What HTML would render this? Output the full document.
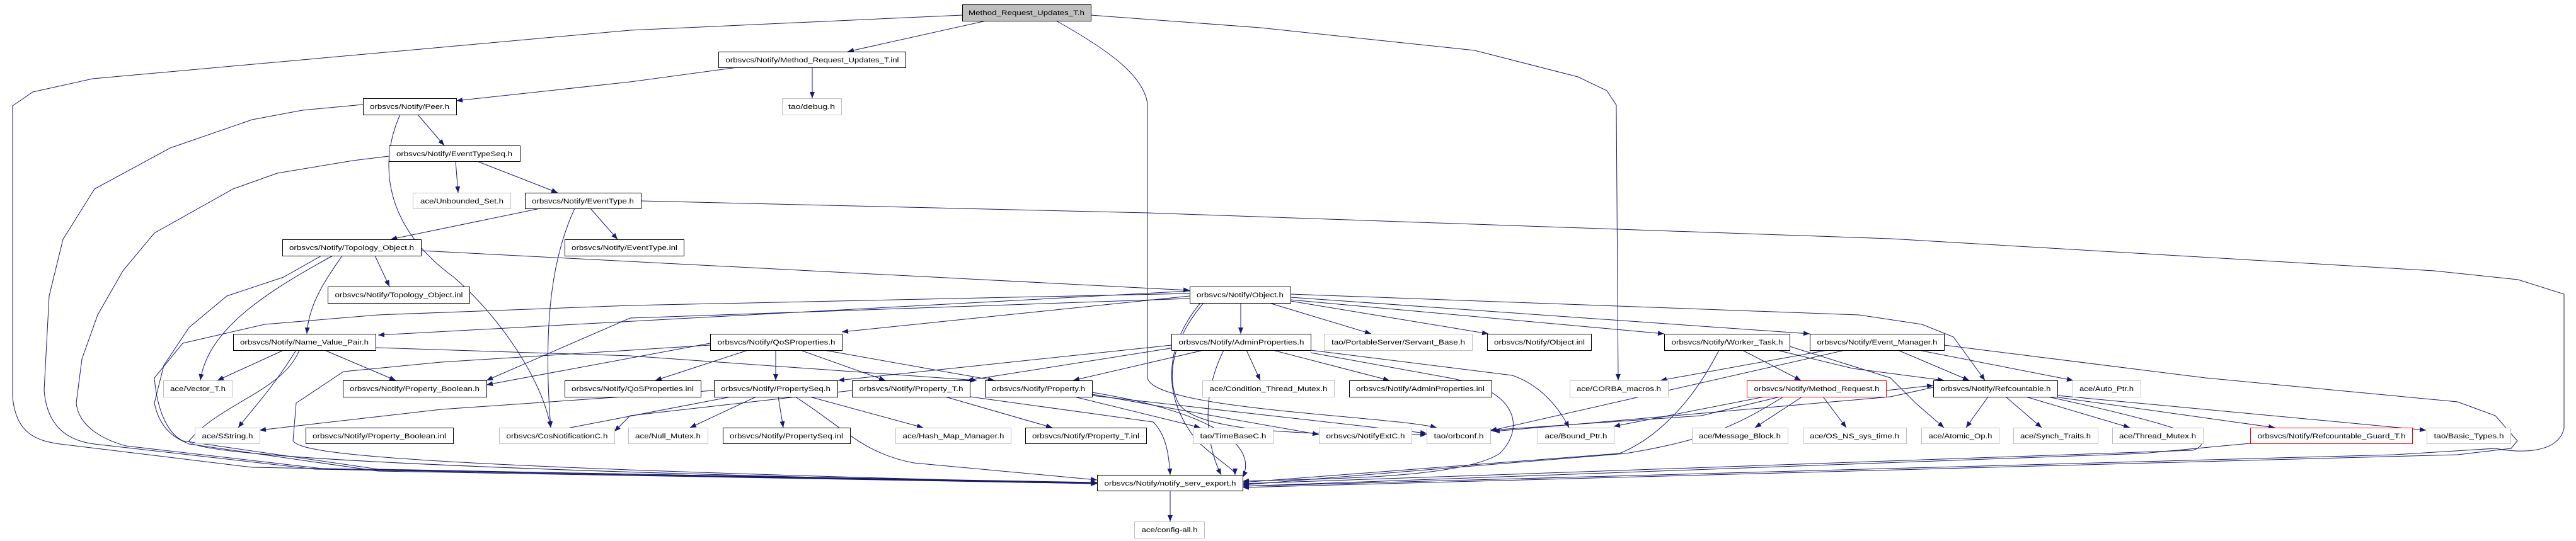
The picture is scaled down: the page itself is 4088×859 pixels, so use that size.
<!DOCTYPE html>
<html><head><meta charset="utf-8"><style>
html,body{margin:0;padding:0;background:#fff;width:4088px;height:859px;overflow:hidden}
svg{display:block}
text{font-family:"Liberation Sans",sans-serif;font-size:11px;fill:#000}
.e{fill:none;stroke:#191970;stroke-width:1}
.n{fill:#fff;stroke:#000;stroke-width:1}
.g{fill:#fff;stroke:#bfbfbf;stroke-width:1}
.r{fill:#fff;stroke:#ff0000;stroke-width:1}
</style></head><body>
<svg width="4088" height="859" viewBox="0 0 4088 859" xmlns="http://www.w3.org/2000/svg">
<defs><marker id="a" markerUnits="userSpaceOnUse" markerWidth="10" markerHeight="8" refX="10" refY="4" orient="auto"><path d="M0,0 L10,4 L0,8 z" fill="#191970"/></marker></defs>
<g class="e" marker-end="url(#a)">
<!-- root -->
<path d="M1565,33 L1345,82"/>
<path d="M1527,24 L1000,48 L147,125 L52,146 L20,168 L20,630 C25,690 60,700 95,705 L400,742 L1741,766"/>
<path d="M1676,33 C1760,80 1815,120 1821,165 L1821,600 C1830,650 2200,660 2280,679"/>
<path d="M1731,24 L2000,44 L2340,80 L2504,122 L2550,144 L2565,167 L2568,604"/>
<!-- inl -->
<path d="M1170,107 L1000,130 L724,160"/>
<path d="M1289,107 L1289,156"/>
<!-- Peer -->
<path d="M663,182 L705,231"/>
<path d="M576,166 L480,175 L400,190 L270,235 L150,300 L100,380 L78,470 L70,620 C75,680 110,700 150,705 L500,745 L1741,767"/>
<path d="M635,182 C600,260 610,360 720,440 C790,500 860,600 874,679"/>
<!-- EventTypeSeq -->
<path d="M723,256 L727,306"/>
<path d="M757,256 L885,306"/>
<path d="M617,248 L560,255 L440,275 L370,300 L245,370 L195,430 L155,500 L130,570 L121,640 C125,680 170,700 200,708 L520,745 L1741,768"/>
<!-- EventType -->
<path d="M857,331 L620,380"/>
<path d="M937,331 L980,380"/>
<path d="M912,331 C880,400 860,500 874,679"/>
<path d="M1017,319 L1821,338 L3000,379 L3863,430 L3996,444 L4069,467 L4069,680 C4060,720 4000,720 3960,712 L3800,722 L1972,772"/>
<!-- Topology_Object -->
<path d="M595,406 L618,455"/>
<path d="M543,406 C520,440 490,480 487,530"/>
<path d="M528,406 C430,460 330,520 318,604"/>
<path d="M668,398 L1888,461"/>
<path d="M510,406 L450,440 L360,470 L300,520 L260,580 L245,640 C255,690 290,700 300,705 L600,748 L1741,768"/>
<!-- Object.h -->
<path d="M1888,462 L600,532"/>
<path d="M1888,470 L1336,527"/>
<path d="M1969,481 L1969,530"/>
<path d="M2014,481 L2176,530"/>
<path d="M2048,478 L2362,530"/>
<path d="M2048,476 L2641,530"/>
<path d="M2048,472 L2872,530"/>
<path d="M2048,467 L2950,500 L3050,515 L3100,535 L3150,604"/>
<path d="M1888,466 L1000,485 L600,500 L420,515 L290,545 L245,600 C250,660 270,690 290,700 L600,745 L1741,767"/>
<path d="M1888,474 L1000,505 L772,604"/>
<path d="M1910,481 C1860,540 1850,600 1870,640 C1900,690 2100,690 2264,690"/>
<path d="M1905,481 C1840,560 1850,640 1900,700 C1930,730 1960,745 1960,754"/>
<!-- Name_Value_Pair -->
<path d="M450,556 L345,604"/>
<path d="M470,556 C430,620 400,650 378,679"/>
<path d="M515,556 L628,604"/>
<path d="M475,556 C450,620 350,640 300,700 C300,720 600,745 1741,768"/>
<path d="M596,552 L1000,565 L1550,604"/>
<!-- QoSProperties -->
<path d="M1187,556 L1040,604"/>
<path d="M1231,556 L1231,604"/>
<path d="M1270,556 L1405,604"/>
<path d="M1308,556 L1578,604"/>
<path d="M1127,545 L772,611"/>
<path d="M1127,548 L700,575 L545,590 L470,640 L465,700 C480,720 600,740 1741,768"/>
<!-- AdminProperties -->
<path d="M1859,548 L1330,604"/>
<path d="M1870,551 L1535,604"/>
<path d="M1910,556 L1703,604"/>
<path d="M1978,556 L2000,604"/>
<path d="M2020,556 L2205,604"/>
<path d="M2080,556 L2400,596 C2440,610 2470,640 2490,679"/>
<path d="M2080,560 L2300,600 C2410,620 2420,680 2380,720 C2320,760 2100,760 1972,764"/>
<path d="M1942,556 C1900,640 1920,720 1938,754"/>
<!-- PropertySeq -->
<path d="M1200,630 L1095,679"/>
<path d="M1235,630 L1243,679"/>
<path d="M1285,630 L1465,679"/>
<path d="M1262,630 C1340,680 1370,720 1450,735 L1741,762"/>
<path d="M1160,630 L900,680 L975,690"/>
<path d="M1133,620 L700,650 L412,683"/>
<!-- Property_T -->
<path d="M1500,630 L1670,679"/>
<path d="M1540,630 L1830,670 C1850,690 1855,720 1857,754"/>
<path d="M1352,620 L1000,660 L975,685"/>
<!-- Property.h -->
<path d="M1705,630 L1905,679"/>
<path d="M1733,626 L2093,690"/>
<path d="M1733,628 L2264,688"/>
<path d="M1733,623 C1900,650 2000,700 1972,758"/>
<!-- Worker_Task -->
<path d="M2765,556 L2858,604"/>
<path d="M2728,556 C2680,650 2620,700 2570,720 L1972,766"/>
<path d="M2820,556 L2940,585 L3085,604"/>
<path d="M2840,550 L3000,600 L3040,640 L3085,679"/>
<!-- Event_Manager -->
<path d="M2900,556 L2635,604"/>
<path d="M2928,556 L2365,684"/>
<path d="M3012,556 L3125,604"/>
<path d="M3045,556 L3290,604"/>
<path d="M3085,548 L3500,600 L3900,638 L3960,660 L3995,700 L3985,712 L3900,722 L1972,774"/>
<!-- Method_Request -->
<path d="M2860,630 L2785,679"/>
<path d="M2893,630 L2930,679"/>
<path d="M2800,630 L2561,677"/>
<path d="M2825,630 L2700,660 L2365,683"/>
<path d="M2830,630 C2750,680 2700,700 2580,720 L1972,770"/>
<path d="M2993,620 L3068,612"/>
<!-- Refcountable -->
<path d="M3155,630 L3120,679"/>
<path d="M3183,630 L3240,679"/>
<path d="M3215,630 L3380,679"/>
<path d="M3260,630 L3610,679"/>
<path d="M3265,628 L3850,683"/>
<path d="M3250,630 C3480,680 3520,700 3480,715 L1972,768"/>
<path d="M3068,615 L3000,630 L2370,685"/>
<!-- Guard -->
<path d="M3571,704 L3400,720 L1972,772"/>
<!-- export -->
<path d="M1857,779 L1857,828"/>
</g>
<!-- nodes -->
<g>
<rect x="1527.5" y="7.5" width="204" height="26" fill="#bfbfbf" stroke="#000"/>
<text x="1629" y="24" text-anchor="middle" textLength="184" lengthAdjust="spacingAndGlyphs">Method_Request_Updates_T.h</text>

<rect class="n" x="1140.5" y="82.5" width="297" height="25"/><text x="1289" y="99" text-anchor="middle" textLength="275" lengthAdjust="spacingAndGlyphs">orbsvcs/Notify/Method_Request_Updates_T.inl</text>
<rect class="g" x="1241.5" y="156.5" width="94" height="26"/><text x="1288" y="173" text-anchor="middle" textLength="74" lengthAdjust="spacingAndGlyphs">tao/debug.h</text>
<rect class="n" x="576.5" y="156.5" width="148" height="26"/><text x="650" y="173" text-anchor="middle" textLength="126" lengthAdjust="spacingAndGlyphs">orbsvcs/Notify/Peer.h</text>
<rect class="n" x="617.5" y="231.5" width="208" height="25"/><text x="721" y="248" text-anchor="middle" textLength="184" lengthAdjust="spacingAndGlyphs">orbsvcs/Notify/EventTypeSeq.h</text>
<rect class="g" x="655.5" y="306.5" width="155" height="25"/><text x="733" y="323" text-anchor="middle" textLength="132" lengthAdjust="spacingAndGlyphs">ace/Unbounded_Set.h</text>
<rect class="n" x="833.5" y="306.5" width="184" height="25"/><text x="925" y="323" text-anchor="middle" textLength="162" lengthAdjust="spacingAndGlyphs">orbsvcs/Notify/EventType.h</text>
<rect class="n" x="448.5" y="380.5" width="220" height="26"/><text x="558" y="397" text-anchor="middle" textLength="198" lengthAdjust="spacingAndGlyphs">orbsvcs/Notify/Topology_Object.h</text>
<rect class="n" x="896.5" y="380.5" width="189" height="26"/><text x="991" y="397" text-anchor="middle" textLength="168" lengthAdjust="spacingAndGlyphs">orbsvcs/Notify/EventType.inl</text>
<rect class="n" x="520.5" y="455.5" width="225" height="26"/><text x="633" y="472" text-anchor="middle" textLength="203" lengthAdjust="spacingAndGlyphs">orbsvcs/Notify/Topology_Object.inl</text>
<rect class="n" x="1888.5" y="455.5" width="160" height="26"/><text x="1968" y="472" text-anchor="middle" textLength="138" lengthAdjust="spacingAndGlyphs">orbsvcs/Notify/Object.h</text>

<rect class="n" x="370.5" y="530.5" width="226" height="26"/><text x="483" y="547" text-anchor="middle" textLength="204" lengthAdjust="spacingAndGlyphs">orbsvcs/Notify/Name_Value_Pair.h</text>
<rect class="n" x="1127.5" y="530.5" width="209" height="26"/><text x="1232" y="547" text-anchor="middle" textLength="187" lengthAdjust="spacingAndGlyphs">orbsvcs/Notify/QoSProperties.h</text>
<rect class="n" x="1859.5" y="530.5" width="221" height="26"/><text x="1970" y="547" text-anchor="middle" textLength="199" lengthAdjust="spacingAndGlyphs">orbsvcs/Notify/AdminProperties.h</text>
<rect class="g" x="2101.5" y="530.5" width="235" height="26"/><text x="2219" y="547" text-anchor="middle" textLength="212" lengthAdjust="spacingAndGlyphs">tao/PortableServer/Servant_Base.h</text>
<rect class="n" x="2360.5" y="530.5" width="165" height="26"/><text x="2443" y="547" text-anchor="middle" textLength="144" lengthAdjust="spacingAndGlyphs">orbsvcs/Notify/Object.inl</text>
<rect class="n" x="2641.5" y="530.5" width="199" height="26"/><text x="2741" y="547" text-anchor="middle" textLength="177" lengthAdjust="spacingAndGlyphs">orbsvcs/Notify/Worker_Task.h</text>
<rect class="n" x="2872.5" y="530.5" width="213" height="26"/><text x="2979" y="547" text-anchor="middle" textLength="191" lengthAdjust="spacingAndGlyphs">orbsvcs/Notify/Event_Manager.h</text>

<rect class="g" x="259.5" y="604.5" width="110" height="26"/><text x="314" y="621" text-anchor="middle" textLength="88" lengthAdjust="spacingAndGlyphs">ace/Vector_T.h</text>
<rect class="n" x="544.5" y="604.5" width="228" height="26"/><text x="658" y="621" text-anchor="middle" textLength="206" lengthAdjust="spacingAndGlyphs">orbsvcs/Notify/Property_Boolean.h</text>
<rect class="n" x="896.5" y="604.5" width="216" height="26"/><text x="1004" y="621" text-anchor="middle" textLength="194" lengthAdjust="spacingAndGlyphs">orbsvcs/Notify/QoSProperties.inl</text>
<rect class="n" x="1133.5" y="604.5" width="196" height="26"/><text x="1231" y="621" text-anchor="middle" textLength="174" lengthAdjust="spacingAndGlyphs">orbsvcs/Notify/PropertySeq.h</text>
<rect class="n" x="1352.5" y="604.5" width="187" height="26"/><text x="1446" y="621" text-anchor="middle" textLength="165" lengthAdjust="spacingAndGlyphs">orbsvcs/Notify/Property_T.h</text>
<rect class="n" x="1563.5" y="604.5" width="170" height="26"/><text x="1648" y="621" text-anchor="middle" textLength="148" lengthAdjust="spacingAndGlyphs">orbsvcs/Notify/Property.h</text>
<rect class="g" x="1908.5" y="604.5" width="209" height="26"/><text x="2013" y="621" text-anchor="middle" textLength="187" lengthAdjust="spacingAndGlyphs">ace/Condition_Thread_Mutex.h</text>
<rect class="n" x="2141.5" y="604.5" width="226" height="26"/><text x="2254" y="621" text-anchor="middle" textLength="204" lengthAdjust="spacingAndGlyphs">orbsvcs/Notify/AdminProperties.inl</text>
<rect class="g" x="2491.5" y="604.5" width="156" height="26"/><text x="2569" y="621" text-anchor="middle" textLength="134" lengthAdjust="spacingAndGlyphs">ace/CORBA_macros.h</text>
<rect class="r" x="2772.5" y="604.5" width="221" height="26"/><text x="2883" y="621" text-anchor="middle" textLength="199" lengthAdjust="spacingAndGlyphs">orbsvcs/Notify/Method_Request.h</text>
<rect class="n" x="3068.5" y="604.5" width="197" height="26"/><text x="3167" y="621" text-anchor="middle" textLength="175" lengthAdjust="spacingAndGlyphs">orbsvcs/Notify/Refcountable.h</text>
<rect class="g" x="3289.5" y="604.5" width="108" height="26"/><text x="3343" y="621" text-anchor="middle" textLength="86" lengthAdjust="spacingAndGlyphs">ace/Auto_Ptr.h</text>

<rect class="g" x="309.5" y="679.5" width="103" height="25"/><text x="361" y="696" text-anchor="middle" textLength="81" lengthAdjust="spacingAndGlyphs">ace/SString.h</text>
<rect class="n" x="485.5" y="679.5" width="234" height="25"/><text x="602" y="696" text-anchor="middle" textLength="212" lengthAdjust="spacingAndGlyphs">orbsvcs/Notify/Property_Boolean.inl</text>
<rect class="g" x="792.5" y="679.5" width="183" height="25"/><text x="884" y="696" text-anchor="middle" textLength="161" lengthAdjust="spacingAndGlyphs">orbsvcs/CosNotificationC.h</text>
<rect class="g" x="997.5" y="679.5" width="126" height="25"/><text x="1060" y="696" text-anchor="middle" textLength="104" lengthAdjust="spacingAndGlyphs">ace/Null_Mutex.h</text>
<rect class="n" x="1147.5" y="679.5" width="202" height="25"/><text x="1248" y="696" text-anchor="middle" textLength="180" lengthAdjust="spacingAndGlyphs">orbsvcs/Notify/PropertySeq.inl</text>
<rect class="g" x="1421.5" y="679.5" width="183" height="25"/><text x="1513" y="696" text-anchor="middle" textLength="161" lengthAdjust="spacingAndGlyphs">ace/Hash_Map_Manager.h</text>
<rect class="n" x="1627.5" y="679.5" width="192" height="25"/><text x="1723" y="696" text-anchor="middle" textLength="170" lengthAdjust="spacingAndGlyphs">orbsvcs/Notify/Property_T.inl</text>
<rect class="g" x="1893.5" y="679.5" width="127" height="25"/><text x="1957" y="696" text-anchor="middle" textLength="105" lengthAdjust="spacingAndGlyphs">tao/TimeBaseC.h</text>
<rect class="g" x="2093.5" y="679.5" width="147" height="25"/><text x="2167" y="696" text-anchor="middle" textLength="125" lengthAdjust="spacingAndGlyphs">orbsvcs/NotifyExtC.h</text>
<rect class="g" x="2264.5" y="679.5" width="101" height="25"/><text x="2315" y="696" text-anchor="middle" textLength="79" lengthAdjust="spacingAndGlyphs">tao/orbconf.h</text>
<rect class="g" x="2440.5" y="679.5" width="121" height="25"/><text x="2501" y="696" text-anchor="middle" textLength="99" lengthAdjust="spacingAndGlyphs">ace/Bound_Ptr.h</text>
<rect class="g" x="2685.5" y="679.5" width="152" height="25"/><text x="2761" y="696" text-anchor="middle" textLength="130" lengthAdjust="spacingAndGlyphs">ace/Message_Block.h</text>
<rect class="g" x="2861.5" y="679.5" width="164" height="25"/><text x="2943" y="696" text-anchor="middle" textLength="142" lengthAdjust="spacingAndGlyphs">ace/OS_NS_sys_time.h</text>
<rect class="g" x="3049.5" y="679.5" width="123" height="25"/><text x="3111" y="696" text-anchor="middle" textLength="101" lengthAdjust="spacingAndGlyphs">ace/Atomic_Op.h</text>
<rect class="g" x="3195.5" y="679.5" width="134" height="25"/><text x="3262" y="696" text-anchor="middle" textLength="112" lengthAdjust="spacingAndGlyphs">ace/Synch_Traits.h</text>
<rect class="g" x="3352.5" y="679.5" width="144" height="25"/><text x="3424" y="696" text-anchor="middle" textLength="122" lengthAdjust="spacingAndGlyphs">ace/Thread_Mutex.h</text>
<rect class="r" x="3571.5" y="679.5" width="257" height="25"/><text x="3700" y="696" text-anchor="middle" textLength="235" lengthAdjust="spacingAndGlyphs">orbsvcs/Notify/Refcountable_Guard_T.h</text>
<rect class="g" x="3851.5" y="679.5" width="133" height="25"/><text x="3918" y="696" text-anchor="middle" textLength="111" lengthAdjust="spacingAndGlyphs">tao/Basic_Types.h</text>

<rect class="n" x="1741.5" y="754.5" width="231" height="25"/><text x="1857" y="771" text-anchor="middle" textLength="209" lengthAdjust="spacingAndGlyphs">orbsvcs/Notify/notify_serv_export.h</text>
<rect class="g" x="1800.5" y="828.5" width="111" height="26"/><text x="1856" y="845" text-anchor="middle" textLength="89" lengthAdjust="spacingAndGlyphs">ace/config-all.h</text>
</g>
</svg>
</body></html>
